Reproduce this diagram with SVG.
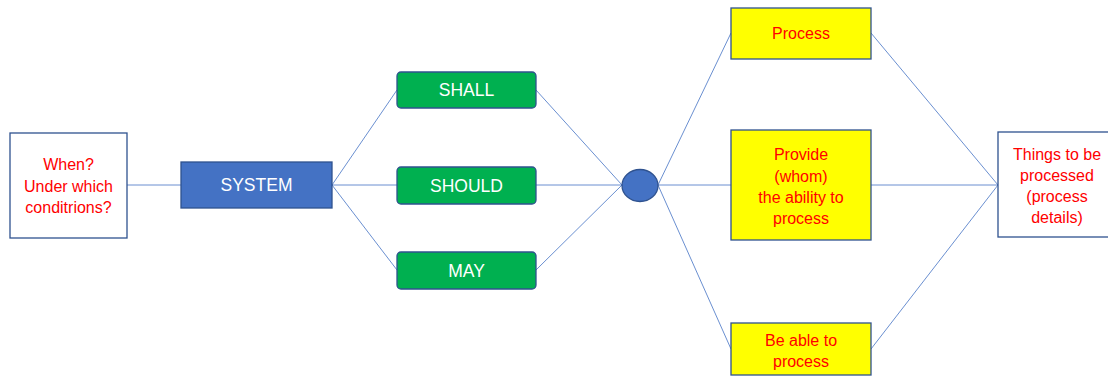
<svg xmlns="http://www.w3.org/2000/svg" width="1108" height="377" viewBox="0 0 1108 377">
<style>
.edge{stroke:#4472C4;stroke-width:0.8;fill:none}
.wbox{fill:#ffffff;stroke:#2F528F;stroke-width:1.3}
.ybox{fill:#FFFF00;stroke:#2F528F;stroke-width:1.3}
.gbox{fill:#00B050;stroke:#2F528F;stroke-width:1.3}
.bbox{fill:#4472C4;stroke:#2F528F;stroke-width:1.3}
.rt{font-family:"Liberation Sans",Arial,sans-serif;font-size:16px;fill:#FF0000;text-anchor:middle}
.wt{font-family:"Liberation Sans",Arial,sans-serif;font-size:17.5px;fill:#ffffff;text-anchor:middle}
</style>
<rect width="1108" height="377" fill="#ffffff"/>
<g id="connectors">
<line class="edge" x1="127" y1="185" x2="181" y2="185"/>
<line class="edge" x1="332" y1="185" x2="397" y2="90"/>
<line class="edge" x1="332" y1="185" x2="397" y2="185"/>
<line class="edge" x1="332" y1="185" x2="397" y2="270"/>
<line class="edge" x1="536" y1="90" x2="622" y2="185"/>
<line class="edge" x1="536" y1="185" x2="622" y2="185"/>
<line class="edge" x1="536" y1="270" x2="622" y2="185"/>
<line class="edge" x1="658" y1="185" x2="731" y2="33"/>
<line class="edge" x1="658" y1="185" x2="731" y2="185"/>
<line class="edge" x1="658" y1="185" x2="731" y2="349"/>
<line class="edge" x1="871" y1="33" x2="998" y2="185"/>
<line class="edge" x1="871" y1="185" x2="998" y2="185"/>
<line class="edge" x1="871" y1="349" x2="998" y2="185"/>
</g>
<g id="when">
<rect class="wbox" x="10" y="133" width="117" height="105"/>
<text class="rt" x="68.5" y="170">When?</text>
<text class="rt" x="68.5" y="192">Under which</text>
<text class="rt" x="68.5" y="213">conditrions?</text>
</g>
<g id="system">
<rect class="bbox" x="181" y="162" width="151" height="46"/>
<text class="wt" x="256.5" y="191">SYSTEM</text>
</g>
<g id="shall">
<rect class="gbox" x="397" y="72" width="139" height="36" rx="4"/>
<text class="wt" x="466.5" y="96">SHALL</text>
</g>
<g id="should">
<rect class="gbox" x="397" y="167" width="139" height="37" rx="4"/>
<text class="wt" x="466.5" y="191.5">SHOULD</text>
</g>
<g id="may">
<rect class="gbox" x="397" y="252" width="139" height="37" rx="4"/>
<text class="wt" x="466.5" y="276.5">MAY</text>
</g>
<g id="junction">
<ellipse cx="640" cy="185.5" rx="18" ry="16" fill="#4472C4" stroke="#2F528F" stroke-width="1.3"/>
</g>
<g id="process">
<rect class="ybox" x="731" y="8" width="140" height="51"/>
<text class="rt" x="801" y="39">Process</text>
</g>
<g id="provide">
<rect class="ybox" x="731" y="130" width="140" height="110"/>
<text class="rt" x="801" y="160">Provide</text>
<text class="rt" x="801" y="181.5">(whom)</text>
<text class="rt" x="801" y="202.5">the ability to</text>
<text class="rt" x="801" y="224">process</text>
</g>
<g id="beable">
<rect class="ybox" x="731" y="323" width="140" height="52"/>
<text class="rt" x="801" y="345.5">Be able to</text>
<text class="rt" x="801" y="366.5">process</text>
</g>
<g id="things">
<rect class="wbox" x="998" y="132" width="118" height="105"/>
<text class="rt" x="1057" y="160">Things to be</text>
<text class="rt" x="1057" y="181">processed</text>
<text class="rt" x="1057" y="202">(process</text>
<text class="rt" x="1057" y="223">details)</text>
</g>
</svg>
